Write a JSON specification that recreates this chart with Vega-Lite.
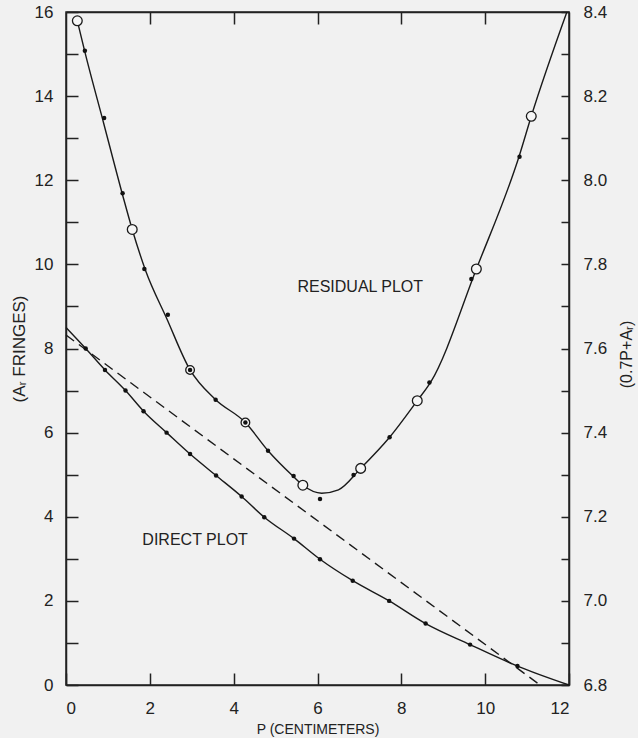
{
  "$schema": "https://vega.github.io/schema/vega-lite/v6.json",
  "width": 503,
  "height": 673,
  "autosize": {"type": "none"},
  "padding": {"left": 66, "top": 12, "right": 69, "bottom": 53},
  "background": "#f1f1f1",
  "config": {
    "view": {"stroke": "#222", "strokeWidth": 1.5},
    "axis": {
      "labelFont": "Liberation Sans",
      "labelFontSize": 17,
      "labelColor": "#222",
      "titleFont": "Liberation Sans",
      "titleFontSize": 14,
      "titleFontWeight": "normal",
      "titleColor": "#222",
      "domainColor": "#222",
      "domainWidth": 1.5,
      "tickColor": "#222",
      "tickWidth": 1.5,
      "tickSize": -12,
      "grid": false
    },
    "text": {"font": "Liberation Sans"}
  },
  "datasets": {
    "direct_curve": [
      {"P": 0, "A": 8.5}, {"P": 0.47, "A": 8.0}, {"P": 0.93, "A": 7.49}, {"P": 1.42, "A": 7.0},
      {"P": 1.85, "A": 6.51}, {"P": 2.4, "A": 6.0}, {"P": 2.96, "A": 5.49}, {"P": 3.58, "A": 4.98},
      {"P": 4.19, "A": 4.48}, {"P": 4.73, "A": 3.99}, {"P": 5.44, "A": 3.48}, {"P": 6.06, "A": 2.99},
      {"P": 6.84, "A": 2.48}, {"P": 7.71, "A": 2.0}, {"P": 8.58, "A": 1.46}, {"P": 9.64, "A": 0.96},
      {"P": 10.77, "A": 0.45}, {"P": 12, "A": 0}
    ],
    "direct_points": [
      {"P": 0.47, "A": 8.0}, {"P": 0.93, "A": 7.49}, {"P": 1.42, "A": 7.0}, {"P": 1.85, "A": 6.51},
      {"P": 2.4, "A": 6.0}, {"P": 2.96, "A": 5.49}, {"P": 3.58, "A": 4.98}, {"P": 4.19, "A": 4.48},
      {"P": 4.73, "A": 3.99}, {"P": 5.44, "A": 3.48}, {"P": 6.06, "A": 2.99}, {"P": 6.84, "A": 2.48},
      {"P": 7.71, "A": 2.0}, {"P": 8.58, "A": 1.46}, {"P": 9.64, "A": 0.96}, {"P": 10.77, "A": 0.45}
    ],
    "dashed": [{"P": 0, "A": 8.32}, {"P": 11.31, "A": 0}],
    "labels": [
      {"P": 7.02, "A": 9.46, "text": "RESIDUAL  PLOT"},
      {"P": 3.08, "A": 3.45, "text": "DIRECT  PLOT"}
    ],
    "residual_curve": [
      {"P": 0.27, "R": 8.379}, {"P": 0.45, "R": 8.305}, {"P": 0.9, "R": 8.135}, {"P": 1.35, "R": 7.965},
      {"P": 1.58, "R": 7.883}, {"P": 1.9, "R": 7.785}, {"P": 2.4, "R": 7.672}, {"P": 2.96, "R": 7.549},
      {"P": 3.55, "R": 7.48}, {"P": 4.28, "R": 7.424}, {"P": 4.82, "R": 7.357}, {"P": 5.4, "R": 7.298},
      {"P": 5.65, "R": 7.275}, {"P": 6.1, "R": 7.256}, {"P": 6.5, "R": 7.264}, {"P": 7.03, "R": 7.315},
      {"P": 7.72, "R": 7.389}, {"P": 8.38, "R": 7.476}, {"P": 8.7, "R": 7.52}, {"P": 9.79, "R": 7.789},
      {"P": 10.82, "R": 8.06}, {"P": 11.1, "R": 8.152}, {"P": 11.95, "R": 8.4}
    ],
    "residual_points": [
      {"P": 0.45, "R": 8.308, "kind": "dot"}, {"P": 0.91, "R": 8.148, "kind": "dot"},
      {"P": 1.35, "R": 7.969, "kind": "dot"}, {"P": 1.87, "R": 7.789, "kind": "dot"},
      {"P": 2.43, "R": 7.68, "kind": "dot"}, {"P": 3.57, "R": 7.478, "kind": "dot"},
      {"P": 4.82, "R": 7.357, "kind": "dot"}, {"P": 5.43, "R": 7.297, "kind": "dot"},
      {"P": 6.06, "R": 7.242, "kind": "dot"}, {"P": 6.86, "R": 7.299, "kind": "dot"},
      {"P": 7.72, "R": 7.389, "kind": "dot"}, {"P": 8.67, "R": 7.519, "kind": "dot"},
      {"P": 9.67, "R": 7.765, "kind": "dot"}, {"P": 10.82, "R": 8.056, "kind": "dot"},
      {"P": 0.27, "R": 8.379, "kind": "open"}, {"P": 1.58, "R": 7.883, "kind": "open"},
      {"P": 5.65, "R": 7.275, "kind": "open"}, {"P": 7.03, "R": 7.315, "kind": "open"},
      {"P": 8.38, "R": 7.476, "kind": "open"}, {"P": 9.79, "R": 7.789, "kind": "open"},
      {"P": 11.1, "R": 8.152, "kind": "open"},
      {"P": 2.96, "R": 7.549, "kind": "dotted"}, {"P": 4.28, "R": 7.424, "kind": "dotted"}
    ]
  },
  "layer": [
    {
      "encoding": {
        "x": {
          "field": "P", "type": "quantitative",
          "scale": {"domain": [0, 12], "nice": false, "zero": false},
          "axis": {
            "orient": "bottom",
            "values": [0, 2, 4, 6, 8, 10, 12],
            "labelPadding": 27,
            "title": "P (CENTIMETERS)",
            "titleFontSize": 14,
            "titlePadding": 6
          }
        },
        "y": {
          "field": "A", "type": "quantitative",
          "scale": {"domain": [0, 16], "nice": false, "zero": false},
          "axis": {
            "orient": "left",
            "values": [0, 1, 2, 3, 4, 5, 6, 7, 8, 9, 10, 11, 12, 13, 14, 15, 16],
            "labelExpr": "datum.value % 2 === 0 ? datum.label : ''",
            "labelPadding": 25,
            "title": "(Aᵣ FRINGES)",
            "titleFontSize": 17,
            "titlePadding": 6
          }
        }
      },
      "layer": [
        {
          "data": {"name": "direct_curve"},
          "mark": {"type": "line", "interpolate": "monotone", "color": "#1a1a1a", "strokeWidth": 1.4}
        },
        {
          "data": {"name": "dashed"},
          "mark": {"type": "line", "color": "#1a1a1a", "strokeWidth": 1.4, "strokeDash": [10, 6]}
        },
        {
          "data": {"name": "direct_points"},
          "mark": {"type": "point", "shape": "circle", "filled": true, "color": "#111", "size": 20, "opacity": 1}
        },
        {
          "data": {"name": "labels"},
          "mark": {"type": "text", "fontSize": 16, "color": "#222", "align": "center", "baseline": "middle"},
          "encoding": {"text": {"field": "text"}}
        }
      ]
    },
    {
      "encoding": {
        "x": {
          "field": "P", "type": "quantitative",
          "scale": {"domain": [0, 12], "nice": false, "zero": false},
          "axis": {
            "orient": "top",
            "values": [2, 4, 6, 8, 10],
            "labels": false,
            "title": null
          }
        },
        "y": {
          "field": "R", "type": "quantitative",
          "scale": {"domain": [6.8, 8.4], "nice": false, "zero": false},
          "axis": {
            "orient": "right",
            "values": [6.8, 6.9, 7.0, 7.1, 7.2, 7.3, 7.4, 7.5, 7.6, 7.7, 7.8, 7.9, 8.0, 8.1, 8.2, 8.3, 8.4],
            "labelExpr": "round(datum.value * 10) % 2 === 0 ? format(datum.value, '.1f') : ''",
            "tickSize": -8,
            "labelPadding": 22,
            "title": "(0.7P+Aᵣ)",
            "titleAngle": -90,
            "titleFontSize": 16,
            "titleX": 57,
            "titleY": 342,
            "titleAlign": "center",
            "titleBaseline": "middle"
          }
        }
      },
      "layer": [
        {
          "data": {"name": "residual_curve"},
          "mark": {"type": "line", "interpolate": "monotone", "color": "#1a1a1a", "strokeWidth": 1.4}
        },
        {
          "data": {"name": "residual_points"},
          "transform": [{"filter": "datum.kind === 'open'"}],
          "mark": {"type": "point", "shape": "circle", "filled": false, "fill": "#f6f6f6", "fillOpacity": 1, "stroke": "#1a1a1a", "strokeWidth": 1.3, "size": 95, "opacity": 1}
        },
        {
          "data": {"name": "residual_points"},
          "transform": [{"filter": "datum.kind === 'dotted'"}],
          "mark": {"type": "point", "shape": "circle", "filled": false, "fill": "#f6f6f6", "fillOpacity": 1, "stroke": "#1a1a1a", "strokeWidth": 1.3, "size": 75, "opacity": 1}
        },
        {
          "data": {"name": "residual_points"},
          "transform": [{"filter": "datum.kind !== 'open'"}],
          "mark": {"type": "point", "shape": "circle", "filled": true, "color": "#111", "size": 20, "opacity": 1}
        }
      ]
    }
  ],
  "resolve": {"scale": {"x": "independent", "y": "independent"}}
}
